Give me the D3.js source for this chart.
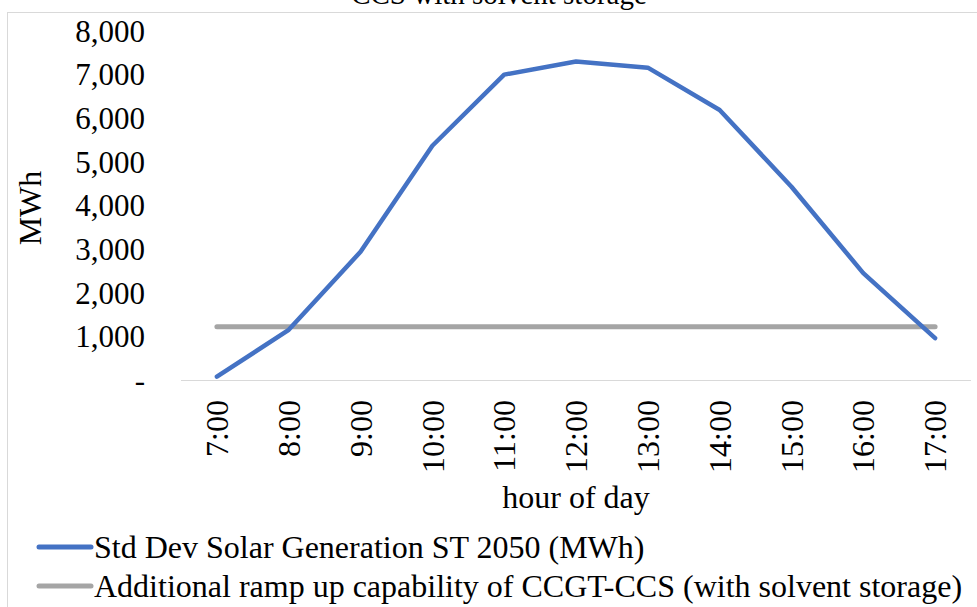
<!DOCTYPE html>
<html>
<head>
<meta charset="utf-8">
<script src="https://cdn.jsdelivr.net/npm/d3@7"></script>
<style>
  body { margin: 0; background: #fff; }
  text { font-family: "Liberation Serif", "Times New Roman", serif; fill: #000; }
</style>
</head>
<body>
<svg width="977" height="607"></svg>
<script>
// chart values
var hours = ["7:00", "8:00", "9:00", "10:00", "11:00", "12:00", "13:00", "14:00", "15:00", "16:00", "17:00"];
var solarStdDev = [75, 1150, 2940, 5370, 7000, 7300, 7160, 6190, 4430, 2450, 960];
var rampCapability = [1220, 1220, 1220, 1220, 1220, 1220, 1220, 1220, 1220, 1220, 1220];
var yTicks = [0, 1000, 2000, 3000, 4000, 5000, 6000, 7000, 8000];
var seriesNames = ["Std Dev Solar Generation ST 2050 (MWh)",
                   "Additional ramp up capability of CCGT-CCS (with solvent storage)"];
var seriesColors = ["#4472C4", "#A5A5A5"];

var svg = d3.select("svg");

// chart area border
svg.append("rect")
   .attr("x", 7.5).attr("y", 12.5)
   .attr("width", 1000).attr("height", 700)
   .attr("fill", "none")
   .attr("stroke", "#d9d9d9");

// title (cut off at the top like the original)
svg.append("text")
   .attr("x", 499).attr("y", 4)
   .attr("text-anchor", "middle")
   .attr("font-size", "29px")
   .text("CCS with solvent storage");

var x = d3.scaleBand().domain(hours).range([181, 971]);
var y = d3.scaleLinear().domain([0, 8000]).range([380, 31]);

// y tick labels, zero shown as "-"
svg.append("g").selectAll("text")
   .data(yTicks)
   .enter()
   .append("text")
   .attr("x", 145)
   .attr("y", function(d) { return y(d); })
   .attr("dy", "0.35em")
   .attr("text-anchor", "end")
   .attr("font-size", "31px")
   .text(function(d) { return d === 0 ? "-" : d3.format(",")(d); });

// baseline
svg.append("line")
   .attr("x1", 181).attr("x2", 971)
   .attr("y1", y(0) + 0.5).attr("y2", y(0) + 0.5)
   .attr("stroke", "#d9d9d9");

// x labels, rotated
svg.append("g").selectAll("text")
   .data(hours)
   .enter()
   .append("text")
   .attr("transform", function(d) {
       return "translate(" + (x(d) + x.bandwidth() / 2) + ",400) rotate(-90)";
   })
   .attr("dy", "0.35em")
   .attr("text-anchor", "end")
   .attr("font-size", "32px")
   .text(function(d) { return d; });

// axis titles
svg.append("text")
   .attr("transform", "translate(30,208) rotate(-90)")
   .attr("dy", "0.35em")
   .attr("text-anchor", "middle")
   .attr("font-size", "32px")
   .text("MWh");

svg.append("text")
   .attr("x", 576).attr("y", 497)
   .attr("dy", "0.35em")
   .attr("text-anchor", "middle")
   .attr("font-size", "32px")
   .text("hour of day");

var line = d3.line()
   .x(function(d, i) { return x(hours[i]) + x.bandwidth() / 2; })
   .y(function(d) { return y(d); });

svg.append("path")
   .datum(rampCapability)
   .attr("d", line)
   .attr("fill", "none")
   .attr("stroke", seriesColors[1])
   .attr("stroke-width", 5)
   .attr("stroke-linecap", "round");

svg.append("path")
   .datum(solarStdDev)
   .attr("d", line)
   .attr("fill", "none")
   .attr("stroke", seriesColors[0])
   .attr("stroke-width", 4.5)
   .attr("stroke-linecap", "round")
   .attr("stroke-linejoin", "round");

// legend
var legend = svg.append("g").selectAll("g")
   .data(seriesNames)
   .enter()
   .append("g")
   .attr("transform", function(d, i) { return "translate(0," + (547 + i * 39) + ")"; });

legend.append("line")
   .attr("x1", 39).attr("x2", 91)
   .attr("stroke", function(d, i) { return seriesColors[i]; })
   .attr("stroke-width", 5)
   .attr("stroke-linecap", "round");

legend.append("text")
   .attr("x", 94)
   .attr("dy", "0.35em")
   .attr("font-size", "32px")
   .text(function(d) { return d; });
</script>
</body>
</html>
